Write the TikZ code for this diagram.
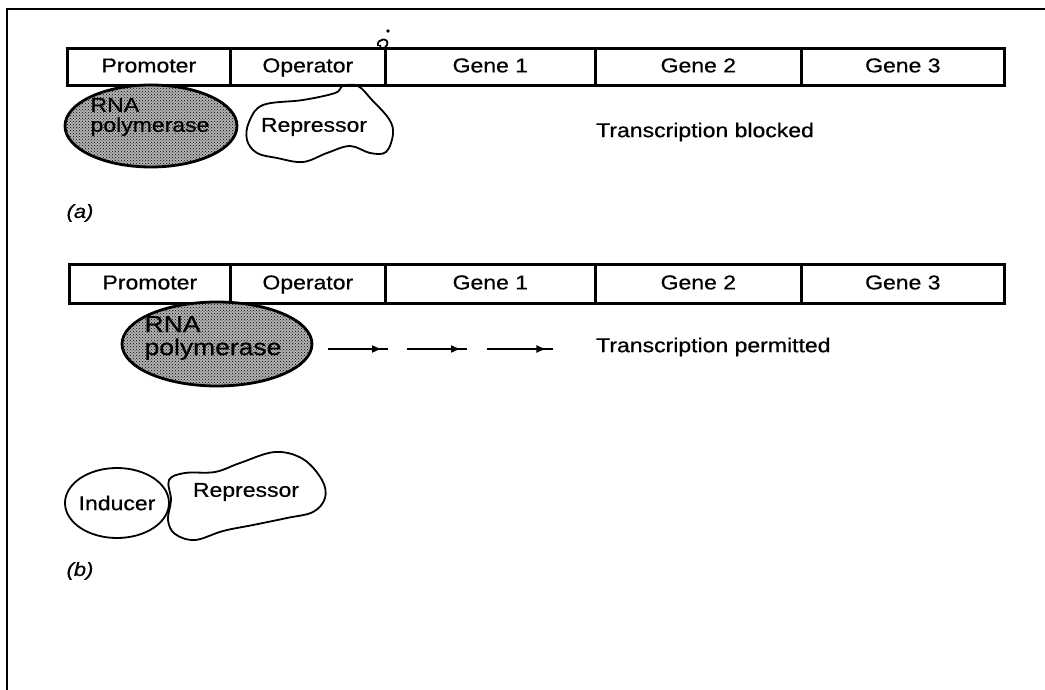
\documentclass[tikz,border=0pt]{standalone}
\usepackage{fontspec}
\setmainfont[FakeStretch=1.15,FakeBold=0.6]{Liberation Sans}
\usetikzlibrary{shapes.geometric,patterns,decorations.markings,arrows.meta}
\begin{document}
\begin{tikzpicture}[x=1pt,y=-1pt,
  cell/.style={draw, line width=2.7pt, inner sep=0pt, anchor=north west,
    text height=14pt, text depth=3pt,
    font=\fontsize{20}{24}\selectfont},
  lbl/.style={inner sep=0pt, font=\fontsize{20}{24}\selectfont},
  poly/.style={ellipse, draw, line width=2.8pt, inner sep=0pt,
    fill=gray!60, postaction={pattern=crosshatch dots, pattern color=black}},
  polytext/.style={inner sep=0pt, align=left, font=\fontsize{#1}{#1}\selectfont},
  blob/.style={draw, line width=1.8pt},
  dasharrow/.style={line width=1.6pt, decoration={markings,
    mark=at position 0.9 with {\arrow{Latex[length=10pt,width=8pt]}}},
    postaction={decorate}},
  caption/.style={inner sep=0pt, font=\fontsize{19}{22}\selectfont\itshape}
]
\useasboundingbox (0,0) rectangle (1045,690);
% frame
\draw[line width=2.8pt] (7,690) -- (7,9) -- (1045,9);

% ---------- (a) ----------
\node[cell, minimum width=163pt, minimum height=37pt] (pa)  at (66,47)  {Promoter};
\node[cell, minimum width=155pt, minimum height=37pt] (oa)  at (229,47) {Operator};
\node[cell, minimum width=210pt, minimum height=37pt] (g1a) at (384,47) {Gene 1};
\node[cell, minimum width=206pt, minimum height=37pt] (g2a) at (594,47) {Gene 2};
\node[cell, minimum width=203pt, minimum height=37pt] (g3a) at (800,47) {Gene 3};
% small mark at the operator / gene 1 boundary
\draw[line width=1.8pt] (378,46) .. controls (376,38) and (390,37) .. (387,45)
  .. controls (385,50) and (379,49) .. (380,45);
\fill (388,31) circle (1.8pt);

\node[poly, minimum width=172pt, minimum height=82pt] (rnaa) at (151,126) {};
\node[polytext=20] (rnaatext) at (150,117) {RNA\\polymerase};

\draw[blob] plot[smooth cycle, tension=0.6] coordinates {
  (343,86) (358,86) (372,100) (389,119) (393,134) (386,152) (370,153)
  (350,146) (327,153) (303,162) (277,158) (257,153) (247,140) (249,122)
  (263,105) (303,100) (335,93)};
\node[lbl] (repa) at (314,127) {Repressor};

\node[lbl, anchor=west] (blocked) at (596,132) {Transcription blocked};
\node[caption] (capa) at (80,213) {(a)};

% ---------- (b) ----------
\node[cell, minimum width=161pt, minimum height=39pt] (pb)  at (68,263)  {Promoter};
\node[cell, minimum width=155pt, minimum height=39pt] (ob)  at (229,263) {Operator};
\node[cell, minimum width=210pt, minimum height=39pt] (g1b) at (384,263) {Gene 1};
\node[cell, minimum width=206pt, minimum height=39pt] (g2b) at (594,263) {Gene 2};
\node[cell, minimum width=203pt, minimum height=39pt] (g3b) at (800,263) {Gene 3};

\node[poly, minimum width=190pt, minimum height=84pt] (rnab) at (217,344) {};
\node[polytext=23] (rnabtext) at (213,338) {RNA\\polymerase};

\coordinate (s1) at (328,349); \coordinate (e1) at (388,349);
\coordinate (s2) at (407,349); \coordinate (e2) at (467,349);
\coordinate (s3) at (487,349); \coordinate (e3) at (553,349);
\draw[dasharrow] (s1) -- (e1);
\draw[dasharrow] (s2) -- (e2);
\draw[dasharrow] (s3) -- (e3);

\node[lbl, anchor=west] (permitted) at (596,347) {Transcription permitted};

\node[ellipse, draw, line width=1.8pt, minimum width=104pt, minimum height=70pt, inner sep=0pt] (ind) at (117,503) {};
\node[lbl] (indtext) at (117,503) {Inducer};
\draw[blob] plot[smooth cycle, tension=0.6] coordinates {
  (169,480) (185,473) (215,472) (240,463) (275,452) (303,459) (322,480)
  (325,498) (313,512) (287,518) (253,525) (223,531) (195,540) (175,534)
  (168,520) (171,500)};
\node[lbl] (repb) at (246,492) {Repressor};

\node[caption] (capb) at (80,571) {(b)};
\end{tikzpicture}
\end{document}
